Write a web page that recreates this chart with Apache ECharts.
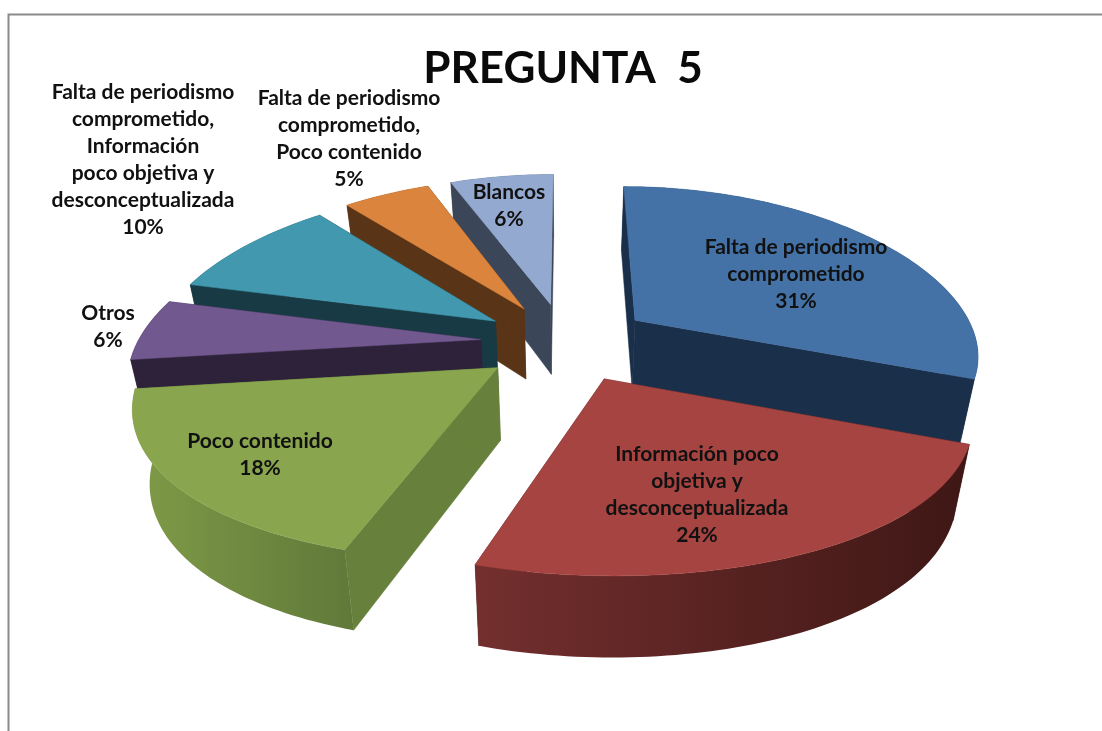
<!DOCTYPE html>
<html>
<head>
<meta charset="utf-8">
<style>html,body{margin:0;padding:0;background:#fff}#c{width:1102px;height:731px;filter:blur(0.45px)}</style>
<script src="https://cdn.jsdelivr.net/npm/echarts@6/dist/echarts.min.js"></script>
</head>
<body>
<div id="c"></div>
<script>
const titleText = 'PREGUNTA  5';
const categories = [
  'Falta de periodismo\ncomprometido',
  'Información poco\nobjetiva y\ndesconceptualizada',
  'Poco contenido',
  'Otros',
  'Falta de periodismo\ncomprometido,\nInformación\npoco objetiva y\ndesconceptualizada',
  'Falta de periodismo\ncomprometido,\nPoco contenido',
  'Blancos'
];
const values = [31, 24, 18, 6, 10, 5, 6];

// styling and layout, kept apart from the data
const topColors  = ['#4472A6', '#A64442', '#89A54E', '#71588F', '#4198AF', '#DB843D', '#93A9CF'];
const wallColors = ['#1A2F49', '#4A1C1A', '#67803B', '#2D2239', '#173A44', '#5A3416', '#3B4658'];
const rimStops = [
  ['#1A2F49', '#1A2F49'],
  ['#732F2E', '#3E1715'],
  ['#7F9B47', '#60793A'],
  ['#2D2239', '#2D2239'],
  ['#173A44', '#173A44'],
  ['#5A3416', '#5A3416'],
  ['#3B4658', '#3B4658']
];
const drawOrder = [6, 5, 4, 3, 0, 2, 1];
const labelCenters = [
  [796, 274], [697, 495], [260, 455], [108, 327], [143, 160], [349, 139], [509, 206]
];
const view = { cx: 566, cy: 342, rx: 343, ry: 158, kx: 0.2, ky: 0.14, explode: 0.25, depth: 71.5, depthPow: 0.7, taper: 0.96 };

function topPoint(th, r, ox, oy) {
  const X = ox + r * Math.sin(th), Y = oy - r * Math.cos(th);
  const sx = 1 / (1 - view.kx * Y), sy = 1 / (1 - view.ky * Y);
  return [view.cx + view.rx * X * sx, view.cy + view.ry * Y * sy, sy];
}
function lower(pt) {
  return [view.cx + (pt[0] - view.cx) * view.taper, pt[1] + view.depth * Math.pow(pt[2], view.depthPow)];
}
function xy(pt) { return [pt[0], pt[1]]; }

const total = values.reduce((a, b) => a + b, 0);
const startFrac = values.map((_, i) => values.slice(0, i).reduce((a, b) => a + b, 0) / total);

function renderItem(params, api) {
  const i = params.dataIndex;
  const val = api.value(1);
  const a0 = startFrac[i] * 2 * Math.PI;
  const a1 = a0 + val / total * 2 * Math.PI;
  const mid = (a0 + a1) / 2;
  const ox = view.explode * Math.sin(mid), oy = -view.explode * Math.cos(mid);
  const apex = topPoint(0, 0, ox, oy);
  const steps = Math.max(12, Math.round(val * 3));
  const arc = [];
  for (let j = 0; j <= steps; j++) arc.push(topPoint(a0 + (a1 - a0) * j / steps, 1, ox, oy));
  const z = drawOrder.indexOf(i) * 10;
  const poly = (points, fill, zz) => ({
    type: 'polygon', z2: z + zz,
    shape: { points },
    style: { fill, stroke: typeof fill === 'string' ? fill : null, lineWidth: 0.5 }
  });
  const first = arc[0], last = arc[arc.length - 1];
  const rim = arc.map(xy).concat(arc.slice().reverse().map(lower));
  const rimFill = new echarts.graphic.LinearGradient(0, 0, 1, 0, [
    { offset: 0, color: rimStops[i][0] }, { offset: 1, color: rimStops[i][1] }
  ]);
  return {
    type: 'group',
    children: [
      poly([xy(apex), xy(first), lower(first), lower(apex)], wallColors[i], 1),
      poly([xy(apex), xy(last), lower(last), lower(apex)], wallColors[i], 1),
      poly(rim, rimFill, 2),
      poly([xy(apex)].concat(arc.map(xy)), topColors[i], 3),
      {
        type: 'text', z2: 200,
        x: labelCenters[i][0], y: labelCenters[i][1],
        style: {
          text: categories[i] + '\n' + val + '%',
          font: 'bold 21px Lato', fill: '#111', align: 'center', verticalAlign: 'middle',
          lineHeight: 27
        }
      }
    ]
  };
}

const chart = echarts.init(document.getElementById('c'), null, { renderer: 'canvas' });
chart.setOption({
  animation: false,
  backgroundColor: '#fff',
  title: {
    text: titleText, left: 558, top: 42, textAlign: 'center',
    textStyle: { fontFamily: 'Lato', fontWeight: 'bold', fontSize: 44, color: '#0a0a0a' }
  },
  graphic: [{
    type: 'polyline', silent: true,
    shape: { points: [[8.5, 731], [8.5, 14.5], [1102, 14.5]] },
    style: { stroke: '#8a8a8a', lineWidth: 2, fill: null }
  }],
  series: [{
    type: 'custom',
    coordinateSystem: 'none',
    renderItem,
    clip: false,
    data: categories.map((c, i) => [i, values[i]])
  }]
});
</script>
</body>
</html>
